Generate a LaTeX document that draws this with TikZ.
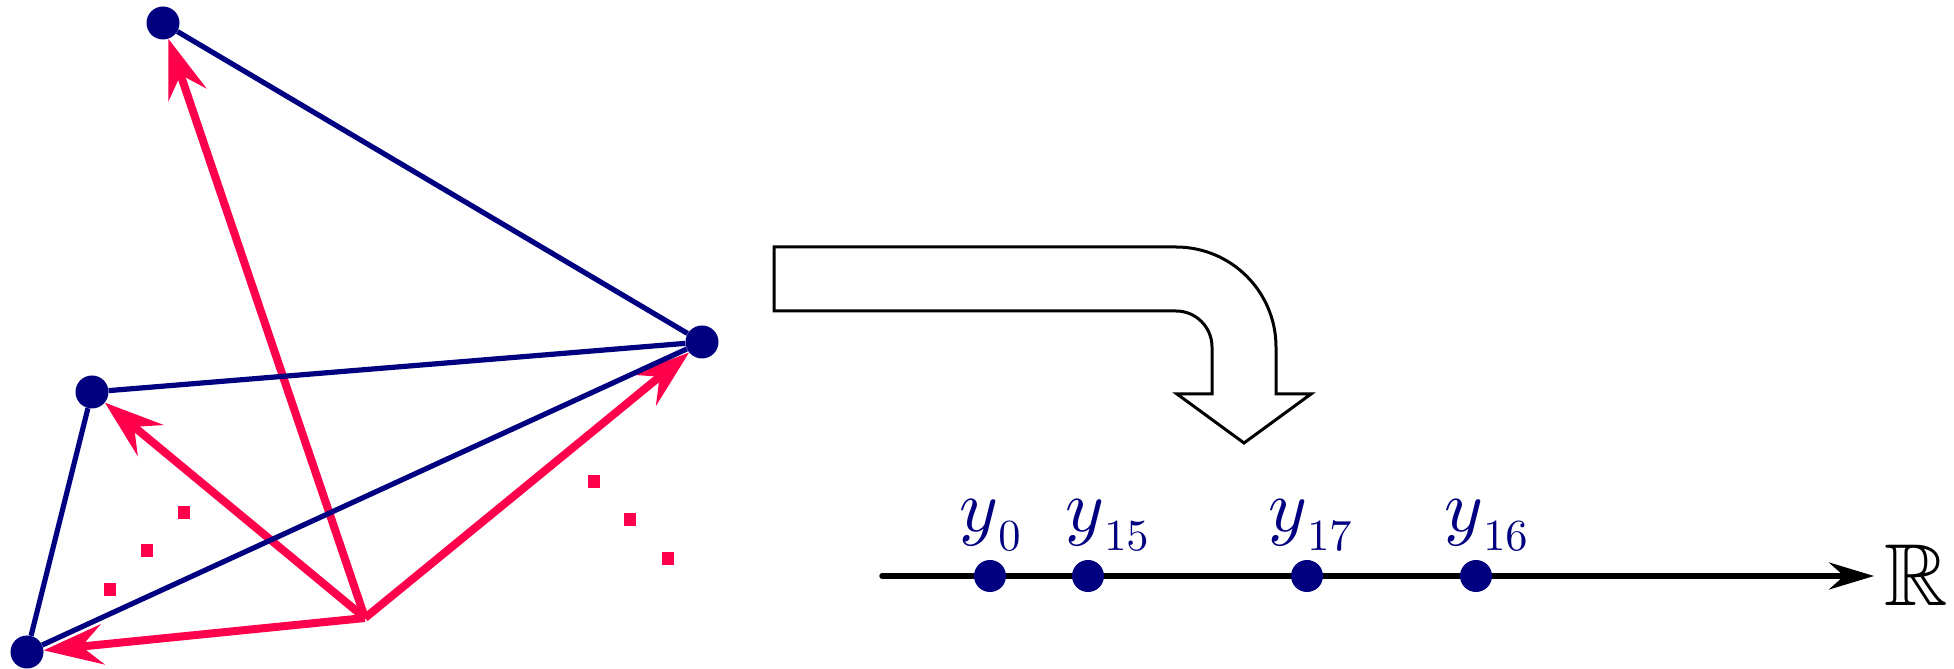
\documentclass[tikz,border=0pt]{standalone}
\usepackage{amssymb}
\usepackage{graphicx}
\usetikzlibrary{arrows.meta,backgrounds}
\definecolor{myred}{RGB}{255,0,77}
\definecolor{mynavy}{RGB}{0,0,128}
\newcommand{\ysub}[1]{$y$\raisebox{-2.7pt}{\scalebox{0.6}{$#1$}}}
\begin{document}
\begin{tikzpicture}[x=1pt,y=1pt,
  vdot/.style={circle,fill=mynavy,inner sep=0pt,minimum size=33pt},
  ndot/.style={circle,fill=mynavy,inner sep=0pt,minimum size=32pt},
  blueline/.style={draw=mynavy,line width=5.2pt},
  redarrow/.style={draw=myred,line width=8pt,-{Stealth[length=59pt,width=40pt,inset=21pt]}},
  sq/.style={fill=myred,inner sep=0pt,minimum width=12pt,minimum height=13pt},
  bigarrow/.style={draw=black,line width=3pt,line join=miter,fill=white},
  numline/.style={draw=black,line width=5.5pt,line cap=round,-{Stealth[length=45pt,width=27pt,inset=15pt]}},
  lab/.style={text=mynavy,inner sep=0pt,anchor=base,font=\normalsize,scale=7.4}
]
\useasboundingbox (0,0) rectangle (1954,669);

% vertices
\node[vdot] (T) at (163,646) {};
\node[vdot] (R) at (702,327) {};
\node[vdot] (L) at (92,277) {};
\node[vdot] (B) at (27,17) {};
\coordinate (C) at (365,51);

\begin{scope}[on background layer]
  \draw[redarrow] (C) -- (T);
  \draw[redarrow] (C) -- (L);
  \draw[redarrow] (C) -- (B);
  \draw[redarrow] (C) -- (R);
  \draw[blueline] (T) -- (R);
  \draw[blueline] (L) -- (R);
  \draw[blueline] (B) -- (R);
  \draw[blueline] (L) -- (B);
\end{scope}

% red dots
\node[sq] (s1) at (110,79) {};
\node[sq] (s2) at (147,118) {};
\node[sq] (s3) at (184,156) {};
\node[sq] (s4) at (594,187) {};
\node[sq] (s5) at (630,149) {};
\node[sq] (s6) at (668,110) {};

% bent arrow
\draw[bigarrow] (774,422) -- (1176,422) arc[start angle=90,end angle=0,radius=100]
  -- (1276,275) -- (1311,275) -- (1244,226) -- (1177,275) -- (1212,275)
  -- (1212,322) arc[start angle=0,end angle=90,radius=36] -- (774,358) -- cycle;

% number line
\coordinate (nlA) at (882,93);
\coordinate (nlB) at (1874,93);
\draw[numline] (nlA) -- (nlB);
\node[ndot] (d0) at (990,93) {};
\node[ndot] (d15) at (1088,93) {};
\node[ndot] (d17) at (1307,93) {};
\node[ndot] (d16) at (1476,93) {};
\node[lab] (l0) at (990,138) {\ysub{0}};
\node[lab] (l15) at (1107,138) {\ysub{15}};
\node[lab] (l17) at (1310,138) {\ysub{17}};
\node[lab] (l16) at (1486,138) {\ysub{16}};
\node[anchor=base west,inner sep=0pt,font=\normalsize,scale=8.8] (Rl) at (1883,64) {$\mathbb{R}$};
\end{tikzpicture}
\end{document}
